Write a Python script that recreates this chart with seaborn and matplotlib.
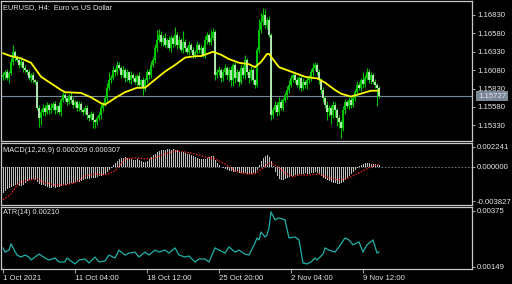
import numpy as np
import matplotlib
matplotlib.use("Agg")
import matplotlib.pyplot as plt
import matplotlib.transforms as mtransforms
import seaborn as sns

# ---------------- data ----------------
symbol_title = "EURUSD, H4:  Euro vs US Dollar"
macd_title = "MACD(12,26,9) 0.000209 0.000307"
atr_title = "ATR(14) 0.00210"

first_open = 1.1598
closes = [
    1.1601, 1.1605, 1.1597, 1.1604, 1.1619, 1.1633, 1.1625, 1.1622, 1.1615, 1.1619,
    1.1611, 1.1608, 1.1605, 1.1597, 1.1601, 1.1594, 1.1592, 1.1557, 1.1543, 1.1551,
    1.1557, 1.1551, 1.1561, 1.1554, 1.1557, 1.1562, 1.1554, 1.1559, 1.1551, 1.1567,
    1.1574, 1.1570, 1.1565, 1.1573, 1.1567, 1.1561, 1.1565, 1.1557, 1.1562, 1.1554,
    1.1551, 1.1557, 1.1547, 1.1543, 1.1548, 1.1540, 1.1537, 1.1543, 1.1547, 1.1557,
    1.1562, 1.1570, 1.1584, 1.1594, 1.1597, 1.1608, 1.1605, 1.1615, 1.1611, 1.1601,
    1.1608, 1.1597, 1.1605, 1.1594, 1.1601, 1.1597, 1.1592, 1.1600, 1.1588, 1.1594,
    1.1584, 1.1594, 1.1605, 1.1601, 1.1615, 1.1622, 1.1638, 1.1649, 1.1656, 1.1646,
    1.1652, 1.1642, 1.1649, 1.1638, 1.1652, 1.1644, 1.1656, 1.1642, 1.1649, 1.1635,
    1.1646, 1.1638, 1.1633, 1.1642, 1.1635, 1.1629, 1.1633, 1.1642, 1.1635, 1.1638,
    1.1629, 1.1649, 1.1656, 1.1646, 1.1652, 1.1660, 1.1601, 1.1605, 1.1608, 1.1597,
    1.1605, 1.1611, 1.1601, 1.1608, 1.1594, 1.1615, 1.1597, 1.1605, 1.1592, 1.1611,
    1.1601, 1.1622, 1.1605, 1.1597, 1.1608, 1.1594, 1.1588, 1.1635, 1.1663, 1.1673,
    1.1683, 1.1669, 1.1676, 1.1656, 1.1547, 1.1554, 1.1561, 1.1551, 1.1565, 1.1557,
    1.1567, 1.1574, 1.1581, 1.1588, 1.1597, 1.1601, 1.1594, 1.1588, 1.1597, 1.1584,
    1.1592, 1.1588, 1.1594, 1.1597, 1.1605, 1.1611, 1.1615, 1.1605, 1.1594, 1.1581,
    1.1570, 1.1561, 1.1551, 1.1557, 1.1547, 1.1561, 1.1554, 1.1543, 1.1537, 1.1529,
    1.1554, 1.1565, 1.1559, 1.1567, 1.1561, 1.1570, 1.1578, 1.1588, 1.1584, 1.1594,
    1.1589, 1.1597, 1.1605, 1.1594, 1.1601, 1.1592, 1.1588, 1.1584, 1.15727,
]
# upper / lower shadow lengths in pips (0.0001)
up_wick_pips = [
    4, 3, 5, 3, 6, 9, 3, 4, 2, 5,
    3, 4, 2, 5, 3, 4, 2, 2, 3, 4,
    5, 3, 4, 2, 6, 3, 4, 2, 5, 3,
    4, 6, 2, 3, 5, 4, 3, 2, 4, 3,
    2, 4, 3, 2, 5, 3, 2, 3, 4, 5,
    3, 4, 6, 11, 4, 5, 3, 6, 4, 3,
    5, 3, 4, 2, 6, 3, 4, 3, 5, 2,
    4, 3, 5, 4, 6, 4, 5, 14, 8, 5,
    4, 6, 3, 5, 4, 3, 11, 4, 5, 3,
    15, 4, 3, 5, 3, 4, 2, 5, 3, 4,
    3, 5, 4, 3, 10, 5, 3, 4, 5, 3,
    4, 5, 3, 4, 6, 3, 4, 5, 3, 6,
    4, 6, 3, 4, 5, 3, 2, 5, 15, 12,
    10, 8, 4, 6, 3, 4, 5, 3, 6, 4,
    3, 4, 5, 6, 4, 3, 5, 4, 3, 4,
    5, 3, 4, 5, 4, 7, 4, 3, 4, 3,
    4, 3, 5, 4, 3, 5, 4, 3, 4, 3,
    5, 4, 3, 5, 4, 6, 4, 5, 4, 3,
    12, 4, 6, 5, 4, 3, 4, 3, 2,
]
dn_wick_pips = [
    4, 5, 3, 6, 3, 4, 5, 3, 4, 3,
    5, 3, 4, 3, 5, 4, 3, 3, 12, 10,
    4, 5, 3, 6, 4, 3, 5, 4, 3, 5,
    3, 4, 5, 3, 4, 5, 3, 4, 5, 3,
    4, 3, 5, 4, 3, 11, 8, 4, 3, 5,
    4, 3, 5, 3, 4, 3, 5, 4, 3, 4,
    3, 5, 4, 3, 5, 4, 3, 6, 4, 3,
    10, 4, 3, 5, 4, 3, 4, 5, 3, 4,
    5, 3, 4, 3, 5, 4, 3, 5, 4, 3,
    4, 5, 3, 4, 3, 5, 4, 3, 4, 5,
    3, 4, 5, 3, 4, 3, 7, 4, 3, 5,
    4, 3, 5, 8, 7, 8, 6, 4, 5, 3,
    4, 5, 3, 6, 4, 5, 4, 3, 4, 5,
    3, 4, 5, 3, 7, 4, 3, 5, 4, 3,
    4, 3, 5, 4, 3, 5, 4, 3, 5, 4,
    3, 4, 5, 3, 4, 5, 3, 4, 5, 6,
    5, 4, 11, 5, 12, 4, 10, 11, 8, 13,
    4, 5, 3, 4, 5, 3, 4, 5, 3, 4,
    5, 4, 3, 4, 5, 3, 4, 25, 3,
]

ma_bars = [0, 4, 9, 14, 19, 24, 29, 31, 39, 44, 49, 51, 56, 61, 67, 71, 76, 81, 86, 91,
           96, 99, 104, 105, 109, 113, 118, 123, 126, 129, 132, 133, 138, 143, 146, 151,
           156, 157, 161, 166, 169, 174, 179, 184, 188]
ma_vals = [1.1631, 1.1627, 1.1624, 1.1618, 1.1599, 1.1590, 1.1581, 1.1578, 1.1577, 1.1571,
           1.1563, 1.1561, 1.1570, 1.1578, 1.1584, 1.1584, 1.1595, 1.1606, 1.1615, 1.1625,
           1.1627, 1.1627, 1.1632, 1.1633, 1.1629, 1.1623, 1.1618, 1.1616, 1.1612, 1.1619,
           1.1630, 1.1630, 1.1612, 1.1607, 1.1604, 1.1599, 1.1597, 1.1597, 1.1591, 1.1581,
           1.1576, 1.1572, 1.1576, 1.1580, 1.1580]

macd_hist = [
    -0.00291, -0.00269, -0.00246, -0.00235, -0.00224, -0.00213, -0.00202, -0.00202, -0.00213, -0.00213,
    -0.00202, -0.00179, -0.00157, -0.00146, -0.00134, -0.00134, -0.00146, -0.00168, -0.00190, -0.00202,
    -0.00202, -0.00213, -0.00224, -0.00235, -0.00235, -0.00224, -0.00235, -0.00224, -0.00224, -0.00213,
    -0.00202, -0.00202, -0.00190, -0.00190, -0.00179, -0.00179, -0.00168, -0.00168, -0.00168, -0.00157,
    -0.00146, -0.00134, -0.00134, -0.00134, -0.00123, -0.00123, -0.00123, -0.00112, -0.00101, -0.00101,
    -0.00090, -0.00078, -0.00056, -0.00034, -0.00011, 0.00022, 0.00045, 0.00067, 0.00090, 0.00101,
    0.00101, 0.00112, 0.00101, 0.00090, 0.00090, 0.00078, 0.00078, 0.00090, 0.00078, 0.00067,
    0.00056, 0.00056, 0.00067, 0.00090, 0.00112, 0.00134, 0.00146, 0.00168, 0.00179, 0.00190,
    0.00190, 0.00190, 0.00202, 0.00202, 0.00190, 0.00202, 0.00190, 0.00190, 0.00179, 0.00168,
    0.00168, 0.00157, 0.00146, 0.00146, 0.00134, 0.00123, 0.00112, 0.00101, 0.00090, 0.00090,
    0.00090, 0.00090, 0.00101, 0.00112, 0.00123, 0.00123, 0.00078, 0.00045, 0.00022, 0.0,
    -0.00011, -0.00022, -0.00034, -0.00045, -0.00045, -0.00056, -0.00056, -0.00056, -0.00067, -0.00067,
    -0.00067, -0.00067, -0.00078, -0.00078, -0.00078, -0.00067, -0.00078, -0.00034, 0.00022, 0.00067,
    0.00101, 0.00123, 0.00134, 0.00112, 0.00067, 0.00011, -0.00056, -0.00101, -0.00134, -0.00146,
    -0.00146, -0.00134, -0.00123, -0.00112, -0.00101, -0.00101, -0.00090, -0.00090, -0.00078, -0.00078,
    -0.00078, -0.00067, -0.00078, -0.00078, -0.00067, -0.00067, -0.00056, -0.00067, -0.00078, -0.00101,
    -0.00123, -0.00134, -0.00146, -0.00157, -0.00168, -0.00179, -0.00179, -0.00190, -0.00190, -0.00179,
    -0.00168, -0.00146, -0.00123, -0.00101, -0.00078, -0.00056, -0.00034, -0.00011, 0.00011, 0.00022,
    0.00034, 0.00045, 0.00045, 0.00045, 0.00034, 0.00034, 0.00034, 0.00022, 0.000209,
]
signal_bars = [0, 4, 8, 13, 17, 21, 26, 31, 36, 41, 46, 51, 56, 61, 66, 71, 76, 81, 86, 91,
               96, 101, 106, 111, 116, 121, 126, 130, 133, 137, 141, 145, 148, 153, 158, 163,
               168, 173, 178, 183, 188]
signal_vals = [-0.00370, -0.00302, -0.00179, -0.00146, -0.00134, -0.00179, -0.00202, -0.00202,
               -0.00179, -0.00101, -0.00078, -0.00090, -0.00045, 0.00090, 0.00101, 0.00090,
               0.00101, 0.00146, 0.00179, 0.00168, 0.00146, 0.00112, 0.00090, 0.00034,
               -0.00045, -0.00078, -0.00078, -0.00011, 0.00045, 0.00011, -0.00067, -0.00112,
               -0.00090, -0.00090, -0.00078, -0.00123, -0.00146, -0.00123, -0.00067, -0.00011,
               0.000307]

atr_bars = [0, 1, 3, 4, 7, 9, 11, 13, 14, 16, 18, 21, 23, 26, 28, 31, 32, 34, 36, 38,
            41, 43, 46, 48, 51, 53, 56, 58, 61, 63, 66, 68, 71, 73, 76, 78, 81, 83, 86, 88,
            91, 93, 96, 98, 101, 103, 106, 108, 111, 113, 116, 118, 121, 123, 126, 127, 128,
            129, 131, 132, 133, 134, 136, 138, 141, 143, 146, 148, 150, 152, 154, 156, 157,
            160, 161, 163, 166, 168, 171, 173, 175, 178, 180, 182, 185, 187, 188]
atr_vals = [0.00226, 0.00209, 0.00217, 0.00242, 0.00197, 0.00189, 0.00197, 0.00189, 0.00177, 0.00189,
            0.00201, 0.00185, 0.00177, 0.00185, 0.00169, 0.00169, 0.00185, 0.00173, 0.00161, 0.00177,
            0.00181, 0.00165, 0.00189, 0.00169, 0.00173, 0.00197, 0.00185, 0.00217, 0.00197, 0.00205,
            0.00209, 0.00189, 0.00209, 0.00197, 0.00217, 0.00209, 0.00217, 0.00205, 0.00226, 0.00197,
            0.00189, 0.00193, 0.00169, 0.00181, 0.00181, 0.00169, 0.00226, 0.00217, 0.00205, 0.00230,
            0.00209, 0.00217, 0.00201, 0.00197, 0.00246, 0.00266, 0.00258, 0.00290, 0.00270, 0.00278,
            0.00306, 0.00371, 0.00339, 0.00347, 0.00339, 0.00266, 0.00270, 0.00258, 0.00165, 0.00161,
            0.00169, 0.00185, 0.00177, 0.00201, 0.00226, 0.00217, 0.00209, 0.00230, 0.00266, 0.00258,
            0.00238, 0.00250, 0.00209, 0.00238, 0.00258, 0.00205, 0.00210]

price_ticks = [1.16830, 1.16580, 1.16330, 1.16080, 1.15830, 1.15580, 1.15330]
last_price = 1.15727
macd_ticks = [0.002241, 0.0, -0.003827]
atr_ticks = [0.00375, 0.00149]
time_tick_bars = [0, 36, 72, 108, 144, 180]
time_labels = ["1 Oct 2021", "11 Oct 04:00", "18 Oct 12:00", "25 Oct 20:00",
               "2 Nov 04:00", "9 Nov 12:00"]

# ---------------- style ----------------
sns.set_style("dark", rc={"axes.facecolor": "black", "figure.facecolor": "black",
                          "axes.grid": False})
plt.rcParams["font.family"] = ["Liberation Sans", "DejaVu Sans"]

FRAME = "#c8c8c8"
TXT = "#e6e6e6"
GREEN = "#00c400"
PALE = "#bff0bf"
FS = 5.6

W, H = 512, 284
fig = plt.figure(figsize=(W / 100, H / 100), dpi=100, facecolor="black")


def px_axes(x0, y0, x1, y1):
    return fig.add_axes([x0 / W, 1 - y1 / H, (x1 - x0) / W, (y1 - y0) / H])


ax1 = px_axes(1, 1, 472, 141)
ax2 = px_axes(1, 143, 472, 205)
ax3 = px_axes(1, 207, 472, 269)

XL = (-1, 234.5)
for ax in (ax1, ax2, ax3):
    ax.set_facecolor("black")
    for s in ax.spines.values():
        s.set_color(FRAME)
        s.set_linewidth(0.9)
    ax.yaxis.tick_right()
    ax.tick_params(axis="y", direction="out", length=2.5, width=0.6, color=FRAME,
                   labelcolor=TXT, labelsize=FS, pad=1)
    ax.grid(False)

# ---------------- main price panel ----------------
n = len(closes)
bars = np.arange(n)
c = np.array(closes)
o = np.array([first_open] + closes[:-1])
hi = np.maximum(o, c) + np.array(up_wick_pips) * 1e-4
lo = np.minimum(o, c) - np.array(dn_wick_pips) * 1e-4
bull = c >= o

ax1.axhline(last_price, color="#778899", lw=0.8, zorder=1)
ax1.vlines(bars, lo, hi, color=GREEN, lw=0.8, zorder=2)
ax1.vlines(bars[bull], o[bull], c[bull], color=GREEN, lw=1.45, zorder=3)
ax1.vlines(bars[~bull], c[~bull], o[~bull], color=PALE, lw=1.3, zorder=3)
sns.lineplot(x=ma_bars, y=ma_vals, ax=ax1, color="#ffff00", lw=1.3, zorder=4)

ax1.set_ylim(1.15116, 1.17020)
ax1.set_yticks(price_ticks)
ax1.set_yticklabels([f"{v:.5f}" for v in price_ticks])
ax1.set_xlim(*XL)
ax1.set_xticks([])
ax1.set_xlabel("")
ax1.set_ylabel("")
tr = mtransforms.blended_transform_factory(ax1.transAxes, ax1.transData)
ax1.text(1.0425, last_price, f"{last_price:.5f}", transform=tr, ha="center", va="center",
         fontsize=FS, color="#dfe6ee",
         bbox=dict(boxstyle="square,pad=0.18", fc="#7a8896", ec="none"))
fig.text(3 / W, 1 - 8 / H, symbol_title, color=TXT, fontsize=FS - 0.3, va="center", ha="left")

# ---------------- MACD panel ----------------
ax2.axhline(0, color="#778899", lw=0.6, ls=(0, (2, 2)), zorder=1)
sns.barplot(x=bars, y=macd_hist, ax=ax2, native_scale=True, color="#c0c0c0",
            saturation=1, width=0.5, linewidth=0, zorder=2)
sns.lineplot(x=signal_bars, y=signal_vals, ax=ax2, color="#ff2020", lw=0.9,
             linestyle=(0, (1.2, 1.2)), zorder=3)
ax2.set_ylim(-0.004276, 0.002690)
ax2.set_yticks(macd_ticks)
ax2.set_yticklabels([f"{v:.6f}" for v in macd_ticks])
ax2.set_xlim(*XL)
ax2.set_xticks([])
ax2.set_xlabel("")
ax2.set_ylabel("")
fig.text(3 / W, 1 - 150 / H, macd_title, color=TXT, fontsize=FS - 0.3, va="center", ha="left")

# ---------------- ATR panel ----------------
sns.lineplot(x=atr_bars, y=atr_vals, ax=ax3, color="#20b2aa", lw=0.9)
ax3.set_ylim(0.001407, 0.00391)
ax3.set_yticks(atr_ticks)
ax3.set_yticklabels([f"{v:.5f}" for v in atr_ticks])
ax3.set_xlim(*XL)
ax3.set_xticks(time_tick_bars)
ax3.set_xticklabels(time_labels, ha="left")
ax3.tick_params(axis="x", direction="out", length=3, width=0.6, color=FRAME,
                labelcolor=TXT, labelsize=FS, pad=1.5, bottom=True)
ax3.set_xlabel("")
ax3.set_ylabel("")
fig.text(3 / W, 1 - 213 / H, atr_title, color=TXT, fontsize=FS - 0.3, va="center", ha="left")

fig.savefig("out.png", dpi=100, facecolor="black")
